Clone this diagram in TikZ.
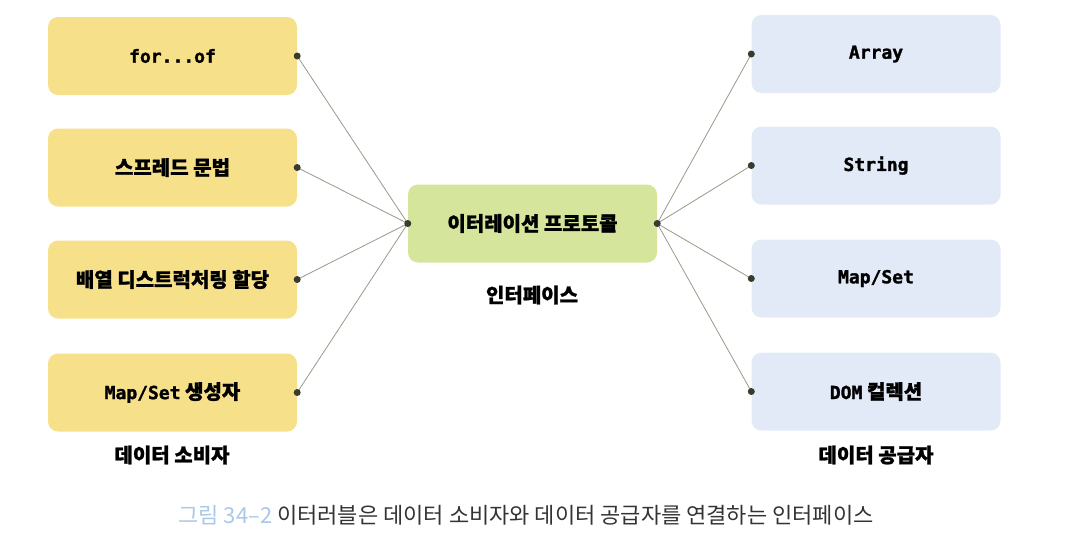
\documentclass[tikz,border=0pt]{standalone}
\usepackage{fontspec}
\setmainfont{Noto Sans CJK KR}[BoldFeatures={FakeBold=1.2}]
\newfontfamily\monob{DejaVu Sans Mono Bold}[FakeBold=1.5]
\definecolor{ybox}{HTML}{F7E08A}
\definecolor{gbox}{HTML}{D5E59B}
\definecolor{bbox}{HTML}{E3EAF7}
\definecolor{dotc}{HTML}{3B3A2E}
\definecolor{linec}{HTML}{9A9888}
\definecolor{capblue}{HTML}{A9C8E8}
\definecolor{captext}{HTML}{333333}
\newcommand{\mn}[1]{{\monob\fontsize{18}{20}\selectfont #1}}
\tikzset{
  box/.style={rectangle, rounded corners=10pt, minimum width=249pt, minimum height=78pt, inner sep=0pt, font=\fontsize{20}{22}\selectfont\bfseries},
  ybx/.style={box, fill=ybox},
  gbx/.style={box, fill=gbox},
  bbx/.style={box, fill=bbox},
  link/.style={draw=linec, line width=0.8pt},
  dotm/.style={circle, fill=dotc, inner sep=0pt, minimum size=7pt},
  lbl/.style={font=\fontsize{20}{22}\selectfont\bfseries}
}
\begin{document}
\begin{tikzpicture}[x=1pt,y=-1pt]
\useasboundingbox (0,0) rectangle (1083,555);
% left
\node[ybx] (l1) at (172.5,56) {\mn{for...of}};
\node[ybx] (l2) at (172.5,167.5) {스프레드 문법};
\node[ybx] (l3) at (172.5,279.5) {배열 디스트럭처링 할당};
\node[ybx] (l4) at (172.5,392.5) {\mn{Map/Set} 생성자};
% center
\node[gbx] (c) at (532.5,223.5) {이터레이션 프로토콜};
% right
\node[bbx] (r1) at (876,54) {\mn{Array}};
\node[bbx] (r2) at (876,165.5) {\mn{String}};
\node[bbx] (r3) at (876,278.5) {\mn{Map/Set}};
\node[bbx] (r4) at (876,391.5) {\mn{DOM} 컬렉션};
% links
\foreach \n in {l1,l2,l3,l4} {
  \draw[link] (\n.east) -- (c.west);
  \node[dotm] at (\n.east) {};
}
\foreach \n in {r1,r2,r3,r4} {
  \draw[link] (c.east) -- (\n.west);
  \node[dotm] at (\n.west) {};
}
\node[dotm] (cw) at (c.west) {};
\node[dotm] (ce) at (c.east) {};
% labels
\node[lbl] (lc) at (172,455) {데이터 소비자};
\node[lbl] (li) at (532,295) {인터페이스};
\node[lbl] (lp) at (876,455) {데이터 공급자};
% caption
\node[font=\fontsize{22}{25}\selectfont, text=captext] (cap) at (526,515) {\textcolor{capblue}{그림 34‒2} 이터러블은 데이터 소비자와 데이터 공급자를 연결하는 인터페이스};
\end{tikzpicture}
\end{document}
